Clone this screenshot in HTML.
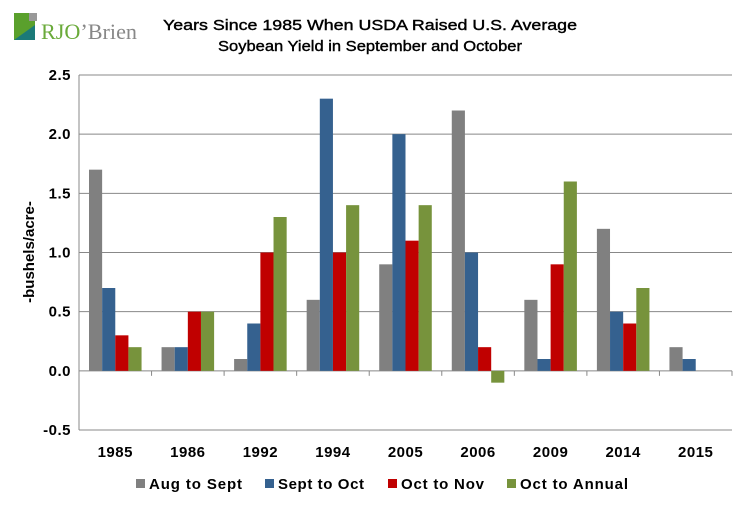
<!DOCTYPE html>
<html><head><meta charset="utf-8"><style>
body{margin:0;background:#fff;width:756px;height:516px;overflow:hidden;font-family:"Liberation Sans",Arial,sans-serif}
svg text{font-family:"Liberation Sans",Arial,sans-serif}
</style></head><body>
<svg id="c" width="756" height="516">
<g>
<rect x="14" y="13" width="21" height="27" fill="#5aa02c"/>
<rect x="29" y="13" width="8" height="8" fill="#999"/>
<polygon points="14,40 35,25 35,40" fill="#1b7a78"/>
<text x="41" y="39" font-size="22" fill="#6aaa3a" style="font-family:'Liberation Serif',serif" textLength="96" lengthAdjust="spacingAndGlyphs">RJO<tspan fill="#888">’Brien</tspan></text>
</g>
<text x="370" y="30" font-size="15" text-anchor="middle" stroke="#000" stroke-width="0.4" textLength="414" lengthAdjust="spacingAndGlyphs">Years Since 1985 When USDA Raised U.S. Average</text>
<text x="370" y="51" font-size="15" text-anchor="middle" stroke="#000" stroke-width="0.4" textLength="304" lengthAdjust="spacingAndGlyphs">Soybean Yield in September and October</text>
<text transform="translate(34,252) rotate(-90)" font-size="15" font-weight="bold" text-anchor="middle">-bushels/acre-</text>
<g id="grid"></g><g id="bars"></g><g id="axes"></g><g id="legend"></g>
</svg>
<script>
const categories=["1985","1986","1992","1994","2005","2006","2009","2014","2015"];
const augSept=[1.7,0.2,0.1,0.6,0.9,2.2,0.6,1.2,0.2];
const septOct=[0.7,0.2,0.4,2.3,2.0,1.0,0.1,0.5,0.1];
const octNov=[0.3,0.5,1.0,1.0,1.1,0.2,0.9,0.4,0];
const octAnnual=[0.2,0.5,1.3,1.4,1.4,-0.1,1.6,0.7,0];
const yTicks=[-0.5,0,0.5,1.0,1.5,2.0,2.5];
const seriesNames=["Aug to Sept","Sept to Oct","Oct to Nov","Oct to Annual"];
const colors=["#808080","#35618f","#c00000","#77933c"];
const series=[augSept,septOct,octNov,octAnnual];
const NS="http://www.w3.org/2000/svg";
const L=79,R=732,yMin=-0.5,yMax=2.5,T=75,B=430;
const y=v=>B-(v-yMin)/(yMax-yMin)*(B-T);
const band=(R-L)/categories.length;
const x=i=>L+i*band;
function mk(t,a,p){const e=document.createElementNS(NS,t);for(const k in a)e.setAttribute(k,a[k]);p.appendChild(e);return e;}
const grid=document.getElementById('grid'),bars=document.getElementById('bars'),axes=document.getElementById('axes'),leg=document.getElementById('legend');
yTicks.forEach(v=>{
 const l=mk('line',{x1:L,x2:R,y1:y(v),y2:y(v),stroke:'#888','stroke-width':1},grid);
 
 
 const t=mk('text',{x:L-8,y:y(v)+5,'font-size':15,'font-weight':'bold','text-anchor':'end','letter-spacing':'0.5'},axes);
 t.textContent=v.toFixed(1);
 
 
});
const ax=mk('line',{x1:L,x2:L,y1:T,y2:B,stroke:'#888'},axes);


const bw=(band-20)/4;
categories.forEach((c,i)=>{
 series.forEach((s,k)=>{
  const v=s[i];if(v===0)return;
  const r=mk('rect',{x:x(i)+10+k*bw,y:Math.min(y(v),y(0)),width:bw,height:Math.abs(y(v)-y(0)),fill:colors[k]},bars);
  
  
 });
 const tk=mk('line',{x1:x(i+1),x2:x(i+1),y1:y(0),y2:y(0)+5,stroke:'#888'},axes);
 
 
 const t=mk('text',{x:x(i)+band/2,y:457,'font-size':15,'font-weight':'bold','text-anchor':'middle','letter-spacing':'0.5'},axes);
 t.textContent=c;
 
 
});
const lx=[136,265,388,507];
const lw=[93,86,83,108];
seriesNames.forEach((n,k)=>{
 const r=mk('rect',{x:lx[k],y:479,width:9,height:9,fill:colors[k]},leg);
 
 
 const t=mk('text',{x:lx[k]+13,y:489,'font-size':15,'font-weight':'bold',textLength:lw[k],lengthAdjust:'spacing'},leg);
 t.textContent=n;
 
 
});
</script>
</body></html>
